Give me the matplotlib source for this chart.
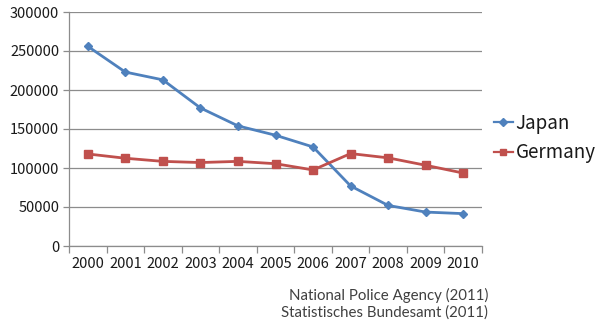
import matplotlib
matplotlib.use("Agg")
import matplotlib.pyplot as plt
from matplotlib.ticker import FixedLocator, NullFormatter

# data
years = ["2000", "2001", "2002", "2003", "2004", "2005",
         "2006", "2007", "2008", "2009", "2010"]
japan = [256000, 223000, 213000, 177000, 154000, 142000,
         127000, 77000, 52000, 43500, 41500]
germany = [118000, 112500, 108500, 107000, 108500, 105500,
           97500, 118500, 113000, 103500, 93500]
y_ticks = [0, 50000, 100000, 150000, 200000, 250000, 300000]
source_lines = ["National Police Agency (2011)", "Statistisches Bundesamt (2011)"]

blue = "#4F81BD"
red = "#C0504D"
grid_col = "#8c8c8c"
text_col = "#1a1a1a"

plt.rcParams["font.family"] = ["Noto Sans CJK JP", "DejaVu Sans"]

fig = plt.figure(figsize=(6.01, 3.23), dpi=100)
ax = fig.add_axes([69 / 601, 1 - 246 / 323, 413 / 601, 234 / 323])

x = list(range(len(years)))
ax.plot(x, japan, color=blue, lw=2.0, marker="D", ms=4.5, label="Japan")
ax.plot(x, germany, color=red, lw=2.0, marker="s", ms=5.5, label="Germany")

ax.set_xlim(-0.5, len(years) - 0.5)
ax.set_ylim(0, 300000)
ax.set_yticks(y_ticks)
ax.set_yticklabels([str(v) for v in y_ticks])
ax.yaxis.grid(True, color=grid_col, lw=0.9)
ax.set_axisbelow(True)

# category boundaries get the tick marks, labels sit in the middle
ax.xaxis.set_major_locator(FixedLocator([i - 0.5 for i in range(len(years) + 1)]))
ax.xaxis.set_major_formatter(NullFormatter())
ax.xaxis.set_minor_locator(FixedLocator(x))
ax.set_xticklabels(years, minor=True)
ax.tick_params(axis="x", which="major", length=5, color=grid_col, width=0.9)
ax.tick_params(axis="x", which="minor", length=0, pad=8, labelsize=10.5, labelcolor=text_col)
ax.tick_params(axis="y", length=4, color=grid_col, width=0.9, pad=3, labelsize=10.5, labelcolor=text_col)

for side in ["top", "right"]:
    ax.spines[side].set_visible(False)
for side in ["left", "bottom"]:
    ax.spines[side].set_color(grid_col)
    ax.spines[side].set_linewidth(0.9)

leg = fig.legend(loc="center left", bbox_to_anchor=(494 / 601, 1 - 138 / 323), frameon=False,
                 fontsize=13.5, handlelength=1.0, handletextpad=0.15, labelspacing=0.45,
                 borderaxespad=0, borderpad=0, markerscale=0.8)
for h in leg.legend_handles:
    h.set_linewidth(1.6)
for t in leg.get_texts():
    t.set_color(text_col)

fig.text(488 / 601, 1 - 295 / 323, source_lines[0], ha="right", va="center",
         fontsize=10.8, color="#404040", family=["Lato", "DejaVu Sans"])
fig.text(488 / 601, 1 - 313 / 323, source_lines[1], ha="right", va="center",
         fontsize=10.8, color="#404040", family=["Lato", "DejaVu Sans"])

fig.savefig("out.png", dpi=100)
